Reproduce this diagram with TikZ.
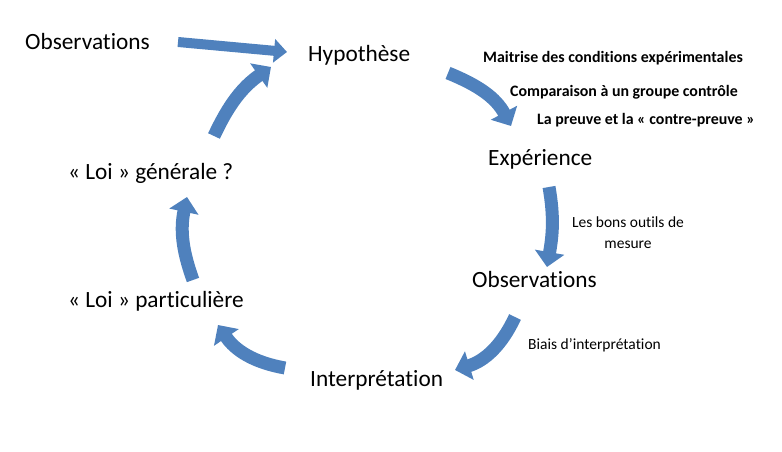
\documentclass[tikz,border=0pt]{standalone}
\usepackage{fontspec}
\setmainfont{Carlito}[Ligatures={NoCommon,NoContextual}]
\usetikzlibrary{arrows.meta}
\definecolor{arrowblue}{RGB}{79,129,189}
\begin{document}
\begin{tikzpicture}[x=1pt,y=1pt,
  bigtxt/.style={anchor=base west,inner sep=0pt,font=\fontsize{23.3}{28}\selectfont},
  smalltxt/.style={anchor=base west,inner sep=0pt,font=\fontsize{15.5}{20}\selectfont},
  boldtxt/.style={anchor=base west,inner sep=0pt,font=\fontsize{15.9}{19}\selectfont\bfseries},
  blockarrow/.style={draw=arrowblue,line width=13pt,-{Triangle[width=29pt,length=15pt]}},
  thinarrow/.style={draw=arrowblue,line width=10pt,-{Triangle[width=23pt,length=13pt]}}]
\useasboundingbox (0,0) rectangle (782,452);
% texts
\node[bigtxt] (obsL) at (25,402) {Observations};
\node[bigtxt] (hyp) at (308,390) {Hypothèse};
\node[boldtxt] (maitrise) at (483,389) {Maitrise des conditions expérimentales};
\node[boldtxt] (compar) at (510,355) {Comparaison à un groupe contrôle};
\node[boldtxt] (preuve) at (537,327) {La preuve et la « contre-preuve »};
\node[bigtxt] (exp) at (488,286) {Expérience};
\node[font=\fontsize{15.5}{21}\selectfont,align=center,inner sep=0pt] (outils) at (628,219) {Les bons outils de\\mesure};
\node[bigtxt] (obsR) at (472,164) {Observations};
\node[smalltxt] (biais) at (528,102) {Biais d’interprétation};
\node[bigtxt] (interp) at (310,65) {Interprétation};
\node[bigtxt] (loiP) at (68,144) {« Loi » particulière};
\node[bigtxt] (loiG) at (68,272) {« Loi » générale ?};
% arrow end points
\coordinate (a1s) at (178,410);
\coordinate (a1e) at (287,400);
\coordinate (a2s) at (214,316);
\coordinate (a2e) at (271,385);
\coordinate (a3s) at (448,379);
\coordinate (a3e) at (511,326);
\coordinate (a4s) at (549,265);
\coordinate (a4e) at (547,185);
\coordinate (a5s) at (515,135);
\coordinate (a5e) at (455,82);
\coordinate (a6s) at (285,84);
\coordinate (a6e) at (218,127);
\coordinate (a7s) at (193,172);
\coordinate (a7e) at (187,255);
% arrows
\draw[thinarrow] (a1s) -- (a1e);
\draw[blockarrow] (a2s) to[out=65,in=215] (a2e);
\draw[blockarrow] (a3s) to[out=-22,in=118] (a3e);
\draw[blockarrow] (a4s) to[out=-80,in=80] (a4e);
\draw[blockarrow] (a5s) to[out=245,in=17] (a5e);
\draw[blockarrow] (a6s) to[out=170,in=-56] (a6e);
\draw[blockarrow] (a7s) to[out=110,in=-102] (a7e);
\end{tikzpicture}
\end{document}
